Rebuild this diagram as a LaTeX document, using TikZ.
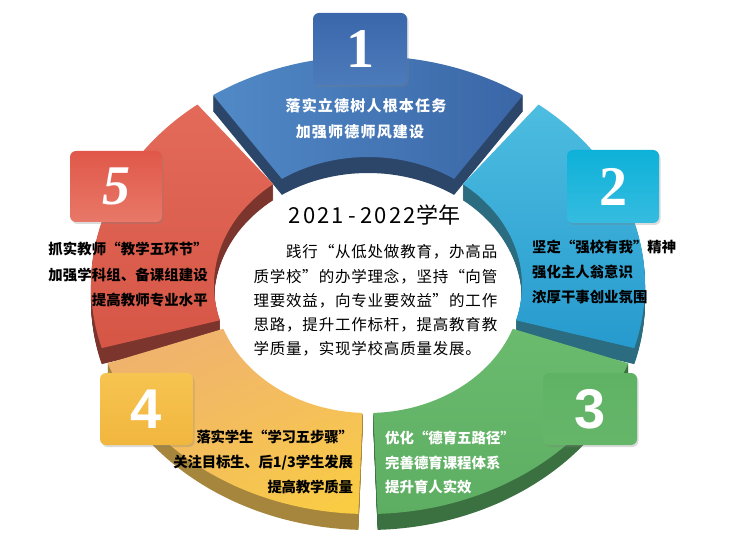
\documentclass[tikz,border=0pt]{standalone}
\usepackage{fontspec}
\newfontfamily\cjk{Noto Sans CJK SC}
\newfontfamily\numserif{Liberation Serif}
\newfontfamily\numsans{Liberation Sans}
\usetikzlibrary{shadows,shadings}

\definecolor{blueL}{HTML}{5189C7}
\definecolor{blueR}{HTML}{3A66A6}
\definecolor{blueD}{HTML}{2C4669}
\definecolor{redT}{HTML}{E36A59}
\definecolor{redB}{HTML}{D65646}
\definecolor{redD}{HTML}{7B352D}
\definecolor{cyanT}{HTML}{4DBDE0}
\definecolor{cyanB}{HTML}{279ACE}
\definecolor{cyanD}{HTML}{2B6C80}
\definecolor{greenT}{HTML}{6ABB6E}
\definecolor{greenB}{HTML}{5DAE62}
\definecolor{greenD}{HTML}{3B7140}
\definecolor{yelUL}{HTML}{EFB070}
\definecolor{yelUR}{HTML}{F2B968}
\definecolor{yelLL}{HTML}{F3BE5C}
\definecolor{yelLR}{HTML}{FACE40}
\definecolor{yelD}{HTML}{A6853D}
\definecolor{box1T}{HTML}{3A67AA}
\definecolor{box1B}{HTML}{4C7BBB}
\definecolor{box2T}{HTML}{0EB1D8}
\definecolor{box2B}{HTML}{35BCE0}
\definecolor{box3T}{HTML}{5FB264}
\definecolor{box3B}{HTML}{66B66A}
\definecolor{box4T}{HTML}{F6C450}
\definecolor{box4B}{HTML}{F1B63E}
\definecolor{box5T}{HTML}{E05849}
\definecolor{box5B}{HTML}{E87868}

% one annular sector of the ring (parametric angles)
\newcommand\segshape[2]{({368+277*cos(#1)},{262+229*sin(#1)}) arc[start angle=#1,end angle=#2,x radius=277,y radius=229] -- ({368+154*cos(#2)},{262+128*sin(#2)}) arc[start angle=#2,end angle=#1,x radius=154,y radius=128] -- cycle}
\newcommand\extrude[3]{\foreach \t in {1,...,16}{\fill[#3,yshift=-\t pt] \segshape{#1}{#2};}}

% monospaced character grid
\newlength\cw
\def\gridw#1#2{\cw=#1\relax\gridaux#2\relax}
\def\gridaux#1{\ifx\relax#1\else\gridcell{#1}\expandafter\gridaux\fi}
\def\gridcell#1{\if#1“\makebox[\cw][r]{#1}\else\if#1”\makebox[\cw][l]{#1}\else\makebox[\cw]{#1}\fi\fi}

\tikzset{
  numbox/.style={rounded corners=6pt, inner sep=0pt, text=white,
    drop shadow={opacity=0.28, shadow xshift=1.5pt, shadow yshift=-2pt}},
  segtext/.style={font=\cjk\bfseries\fontsize{14.4}{16}\selectfont, inner sep=0pt},
  wtext/.style={segtext, text=white},
  bluetext/.style={font=\cjk\bfseries\fontsize{15}{17}\selectfont, inner sep=0pt, text=white},
  paratext/.style={font=\cjk\fontsize{15.5}{17}\selectfont, inner sep=0pt, anchor=west},
}

\begin{document}
\begin{tikzpicture}[x=1pt,y=1pt]
\useasboundingbox (0,0) rectangle (731,547);
\fill[white] (0,0) rectangle (731,547);

% segment 1 (blue, top)
\extrude{56}{124}{blueD}
\shade[left color=blueL, right color=blueR] \segshape{56}{124};
% segment 5 (red, left)
\extrude{128}{196}{redD}
\shade[top color=redT, bottom color=redB] \segshape{128}{196};
% segment 2 (cyan, right)
\extrude{-16}{52}{cyanD}
\shade[top color=cyanT, bottom color=cyanB] \segshape{-16}{52};
% segment 4 (yellow, bottom left)
\extrude{200}{268}{yelD}
\shade[upper left=yelUL, upper right=yelUR, lower left=yelLL, lower right=yelLR] \segshape{200}{268};
% segment 3 (green, bottom right)
\extrude{272}{340}{greenD}
\shade[top color=greenT, bottom color=greenB] \segshape{272}{340};

% number boxes
\node[numbox, top color=box1T, bottom color=box1B, minimum width=94pt, minimum height=72pt,
  font=\numserif\bfseries\fontsize{56}{56}\selectfont] (b1) at (360,498) {1};
\node[numbox, top color=box2T, bottom color=box2B, minimum width=92pt, minimum height=73pt,
  font=\numserif\bfseries\fontsize{56}{56}\selectfont] (b2) at (613,360.5) {2};
\node[numbox, top color=box3T, bottom color=box3B, minimum width=94pt, minimum height=72pt,
  font=\numsans\bfseries\fontsize{56}{56}\selectfont] (b3) at (590,138) {3};
\node[numbox, top color=box4T, bottom color=box4B, minimum width=93pt, minimum height=72pt,
  font=\numsans\bfseries\fontsize{56}{56}\selectfont] (b4) at (146.5,138) {4};
\node[numbox, top color=box5T, bottom color=box5B, minimum width=92pt, minimum height=71pt,
  font=\numserif\bfseries\itshape\fontsize{56}{56}\selectfont] (b5) at (116,360.5) {5};

% segment texts
\node[bluetext] (t1a) at (366,441) {\gridw{16.2pt}{落实立德树人根本任务}};
\node[bluetext] (t1b) at (360,415) {\gridw{16.2pt}{加强师德师风建设}};

\node[segtext, anchor=west] (t2a) at (532,300) {\gridw{14.4pt}{坚定“强校有我”精神}};
\node[segtext, anchor=west] (t2b) at (532,275) {\gridw{14.4pt}{强化主人翁意识}};
\node[segtext, anchor=west] (t2c) at (532,250) {\gridw{14.4pt}{浓厚干事创业氛围}};

\node[wtext, anchor=west] (t3a) at (385,109) {\gridw{14.4pt}{优化“德育五路径”}};
\node[wtext, anchor=west] (t3b) at (385,84) {\gridw{14.4pt}{完善德育课程体系}};
\node[wtext, anchor=west] (t3c) at (385,60) {\gridw{14.4pt}{提升育人实效}};

\node[segtext, anchor=east] (t4a) at (353,110) {\gridw{14.2pt}{落实学生“学习五步骤”}};
\node[segtext, anchor=east] (t4b) at (353,84) {\gridw{14.2pt}{关注目标生、后}1/3\gridw{14.2pt}{学生发展}};
\node[segtext, anchor=east] (t4c) at (353,60) {\gridw{14.2pt}{提高教学质量}};

\node[segtext, anchor=east] (t5a) at (208,298) {\gridw{14.5pt}{抓实教师“教学五环节”}};
\node[segtext, anchor=east] (t5b) at (208,272) {\gridw{14.5pt}{加强学科组、备课组建设}};
\node[segtext, anchor=east] (t5c) at (208,247) {\gridw{14.5pt}{提高教师专业水平}};

% centre
\node[font=\cjk\fontsize{22}{24}\selectfont, inner sep=0pt] (title) at (374,332)
  {\gridw{14.3pt}{2021-2022}\gridw{21.7pt}{学年}};
\node[paratext] (p1) at (285.6,295) {\gridw{16.3pt}{践行“从低处做教育，办高品}};
\node[paratext] (p2) at (253,270.7) {\gridw{16.3pt}{质学校”的办学理念，坚持“向管}};
\node[paratext] (p3) at (253,246.4) {\gridw{16.3pt}{理要效益，向专业要效益”的工作}};
\node[paratext] (p4) at (253,222.1) {\gridw{16.3pt}{思路，提升工作标杆，提高教育教}};
\node[paratext] (p5) at (253,197.8) {\gridw{16.3pt}{学质量，实现学校高质量发展。}};
\end{tikzpicture}
\end{document}
